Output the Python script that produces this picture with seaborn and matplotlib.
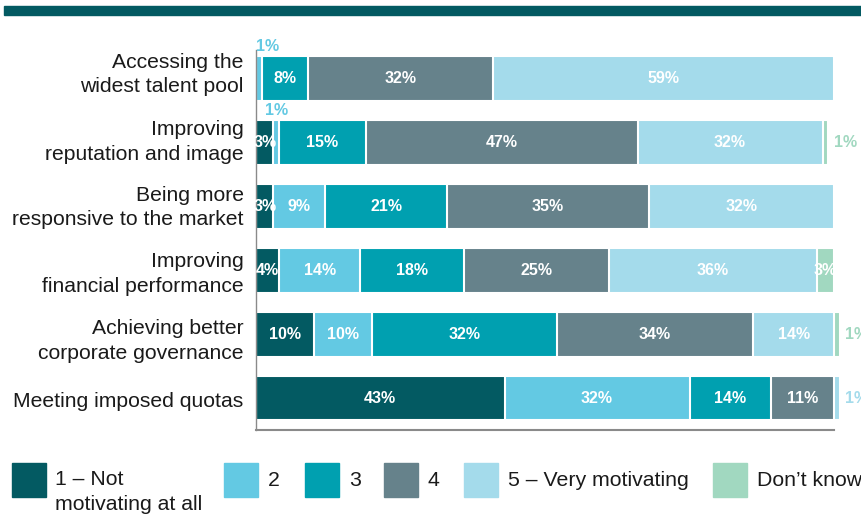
import matplotlib
matplotlib.use("Agg")
import matplotlib.pyplot as plt
from matplotlib.patches import Rectangle
import numpy as np
import pandas as pd
import seaborn as sns

categories = ["Accessing the\nwidest talent pool",
              "Improving\nreputation and image",
              "Being more\nresponsive to the market",
              "Improving\nfinancial performance",
              "Achieving better\ncorporate governance",
              "Meeting imposed quotas"]
levels = ["1 \u2013 Not\nmotivating at all", "2", "3", "4", "5 \u2013 Very motivating", "Don\u2019t know"]
not_motivating = [0, 3, 3, 4, 10, 43]
level2 = [1, 1, 9, 14, 10, 32]
level3 = [8, 15, 21, 18, 32, 14]
level4 = [32, 47, 35, 25, 34, 11]
very_motivating = [59, 32, 32, 36, 14, 1]
dont_know = [0, 1, 0, 3, 1, 0]

colors = ["#035a62", "#63c9e3", "#00a0b0", "#66828b", "#a4dbeb", "#a1d8c0"]

sns.set_theme(style="white")
plt.rcParams['font.family'] = ['Liberation Sans', 'DejaVu Sans']

vals = np.array([not_motivating, level2, level3, level4, very_motivating, dont_know], dtype=float).T
cum = np.cumsum(vals, axis=1)
df = pd.DataFrame({"category": categories})
for k in range(6):
    df[f"cum{k}"] = cum[:, k]

fig = plt.figure(figsize=(8.61, 5.17), dpi=100)
ax = fig.add_axes([256 / 861, 1 - 430 / 517, 607 / 861, 380 / 517])

for k in range(5, -1, -1):
    sns.barplot(data=df, x=f"cum{k}", y="category", orient="h", color=colors[k],
                width=0.7, edgecolor="white", linewidth=1.5, ax=ax, saturation=1)

half = 0.35
n = len(categories)
fs = 11.5
for i in range(n):
    for k in range(6):
        v = vals[i, k]
        if v == 0:
            continue
        start = cum[i, k] - v
        center = start + v / 2
        last = (k == 5) or all(vals[i, k + 1:] == 0)
        if v >= 3:
            ax.text(center, i, f"{int(v)}%", ha="center", va="center", color="white",
                    fontsize=fs, fontweight="bold")
        elif last:
            ax.text(cum[i, k] + 0.9, i, f"{int(v)}%", ha="left", va="center",
                    color=colors[k], fontsize=fs, fontweight="bold", clip_on=False)
        else:
            ax.text(max(center, 2.0), i - half - 0.03, f"{int(v)}%", ha="center", va="bottom",
                    color=colors[k], fontsize=fs, fontweight="bold", clip_on=False)

ax.set_xlim(0, 105)
ax.set_ylim(n - 0.5, -0.45)
ax.set_xlabel("")
ax.set_ylabel("")
ax.set_xticks([])
# label positions (slightly offset from bar centres as in the reference)
ax.set_yticks([-0.14, 0.91, 1.94, 2.98, 4.03, 5.03])
ax.set_yticklabels(categories)
ax.tick_params(axis="y", length=0, pad=9, labelsize=15.2, labelcolor="#1a1a1a")
for lab in ax.get_yticklabels():
    lab.set_multialignment("right")
    lab.set_linespacing(1.38)
for s in ["top", "right"]:
    ax.spines[s].set_visible(False)
ax.spines["left"].set_color("#8a8a8a")
ax.spines["left"].set_linewidth(1.0)
ax.spines["bottom"].set_color("#8a8a8a")
ax.spines["bottom"].set_linewidth(1.5)
ax.spines["bottom"].set_bounds(0, 100)

# top band
W, H = 861, 517
fig.patches.append(Rectangle((4 / W, 1 - 15 / H), (W - 4) / W, 9 / H,
                             transform=fig.transFigure, color="#035a62", zorder=0))

# legend
leg_x = [12, 224, 305, 384, 464, 713]
for k in range(6):
    fig.patches.append(Rectangle((leg_x[k] / W, 1 - 497 / H), 34 / W, 34 / H,
                                 transform=fig.transFigure, color=colors[k]))
    if k == 0:
        fig.text((leg_x[k] + 43) / W, 1 - 470 / H, levels[k], ha="left", va="top",
                 fontsize=15.3, color="#1a1a1a", linespacing=1.42)
    else:
        fig.text((leg_x[k] + 44) / W, 1 - 481 / H, levels[k], ha="left", va="center",
                 fontsize=15.3, color="#1a1a1a")

fig.savefig("out.png", dpi=100)
